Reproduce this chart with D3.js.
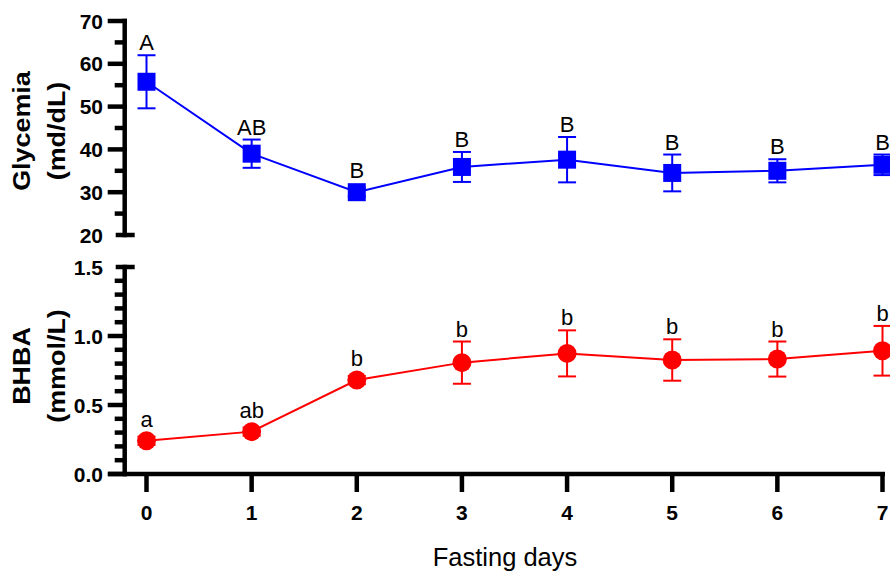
<!DOCTYPE html>
<html><head><meta charset="utf-8">
<script src="https://cdn.jsdelivr.net/npm/d3@7"></script>
<style>
html,body{margin:0;padding:0;background:#fff;}
svg{display:block;}
text{font-family:"Liberation Sans",Arial,sans-serif;}
</style></head>
<body>
<svg id="chart" width="890" height="574"></svg>
<script>
// ---- data ----
const days = [0, 1, 2, 3, 4, 5, 6, 7];
const glycemiaMean = [55.8, 39.0, 30.0, 35.9, 37.6, 34.5, 35.0, 36.4];
const glycemiaSEM  = [6.2, 3.3, 1.0, 3.5, 5.3, 4.3, 2.7, 2.4];
const glycemiaLetters = ["A", "AB", "B", "B", "B", "B", "B", "B"];
const bhbaMean = [0.241, 0.307, 0.681, 0.807, 0.874, 0.826, 0.833, 0.893];
const bhbaSEM  = [0.03, 0.03, 0.03, 0.153, 0.167, 0.150, 0.127, 0.180];
const bhbaLetters = ["a", "ab", "b", "b", "b", "b", "b", "b"];
const glyTicks = [20, 30, 40, 50, 60, 70];
const bhbaTicks = [0.0, 0.5, 1.0, 1.5];

const svg = d3.select("#chart");
const axisX = 124.7, AW = 4.5;

const x = d3.scaleLinear().domain([0, 7]).range([146.5, 882.5]);
const yG = d3.scaleLinear().domain([20, 70]).range([235, 21]);
const yB = d3.scaleLinear().domain([0, 1.5]).range([474, 267]);

function yAxis(scale, major, minorStep, fmt, topCentered, bottomCentered) {
  const g = svg.append("g");
  const d = scale.domain();
  g.append("line").attr("x1", axisX).attr("x2", axisX)
    .attr("y1", scale(d[1]) - AW/2).attr("y2", scale(d[0]) + AW/2)
    .attr("stroke", "#000").attr("stroke-width", AW);
  const minors = d3.range(d[0], d[1] + 1e-9, minorStep).filter(v => !major.some(m => Math.abs(m - v) < 1e-9));
  g.selectAll(".mn").data(minors).join("line")
    .attr("x1", axisX - 10).attr("x2", axisX)
    .attr("y1", v => scale(v)).attr("y2", v => scale(v))
    .attr("stroke", "#000").attr("stroke-width", AW);
  major.forEach((v, i) => {
    let x1 = axisX - 17, x2 = axisX + AW/2;
    if ((i === major.length - 1 && topCentered) || (i === 0 && bottomCentered)) { x1 = axisX - 9; x2 = axisX + 10; }
    g.append("line").attr("x1", x1).attr("x2", x2)
      .attr("y1", scale(v)).attr("y2", scale(v))
      .attr("stroke", "#000").attr("stroke-width", AW);
    g.append("text").attr("x", 103).attr("y", scale(v)).attr("dy", "0.36em")
      .attr("text-anchor", "end").attr("font-size", 21).attr("font-weight", "bold")
      .text(fmt(v));
  });
}
yAxis(yG, glyTicks, 5, d3.format("d"), false, true);
yAxis(yB, bhbaTicks, 0.1, d3.format(".1f"), true, false);

// x axis
svg.append("line").attr("x1", 108).attr("x2", 885)
  .attr("y1", 474).attr("y2", 474).attr("stroke", "#000").attr("stroke-width", AW);
svg.selectAll(".xt").data(days).join("line")
  .attr("x1", d => x(d)).attr("x2", d => x(d))
  .attr("y1", 474).attr("y2", 492).attr("stroke", "#000").attr("stroke-width", AW);
svg.selectAll(".xl").data(days).join("text")
  .attr("x", d => x(d)).attr("y", 520).attr("text-anchor", "middle")
  .attr("font-size", 21).attr("font-weight", "bold").text(d => d);
svg.append("text").attr("x", 505).attr("y", 566).attr("text-anchor", "middle")
  .attr("font-size", 25.5).text("Fasting days");

// y titles (stretched along reading direction like the original)
function yTitle(lines, cy) {
  lines.forEach((t, i) => {
    svg.append("text")
      .attr("transform", `translate(${[30, 65][i]},${cy}) rotate(-90) scale(1.17,1)`)
      .attr("text-anchor", "middle").attr("font-size", 23).attr("font-weight", "bold")
      .text(t);
  });
}
yTitle(["Glycemia", "(md/dL)"], 131);
yTitle(["BHBA", "(mmol/L)"], 366);

function series(mean, sem, letters, y, color, shape) {
  const g = svg.append("g");
  const pts = days.map((d, i) => ({ d, m: mean[i], s: sem[i], l: letters[i] }));
  g.append("path").datum(pts)
    .attr("d", d3.line().x(p => x(p.d)).y(p => y(p.m)))
    .attr("fill", "none").attr("stroke", color).attr("stroke-width", 2);
  pts.forEach(p => {
    const cx = x(p.d), top = y(p.m + p.s), bot = y(p.m - p.s);
    g.append("line").attr("x1", cx).attr("x2", cx).attr("y1", top).attr("y2", bot)
      .attr("stroke", color).attr("stroke-width", 2);
    [top, bot].forEach(yy => g.append("line").attr("x1", cx - 9).attr("x2", cx + 9)
      .attr("y1", yy).attr("y2", yy).attr("stroke", color).attr("stroke-width", 2));
    if (shape === "square") {
      g.append("rect").attr("x", cx - 9).attr("y", y(p.m) - 9).attr("width", 18).attr("height", 18).attr("fill", color);
    } else {
      g.append("circle").attr("cx", cx).attr("cy", y(p.m)).attr("r", 9.5).attr("fill", color);
    }
    const lt = Math.min(top, y(p.m) - 9);
    g.append("text").attr("x", cx).attr("y", lt - 5).attr("text-anchor", "middle")
      .attr("font-size", 22).text(p.l);
  });
}
series(glycemiaMean, glycemiaSEM, glycemiaLetters, yG, "#0000FF", "square");
series(bhbaMean, bhbaSEM, bhbaLetters, yB, "#FF0000", "circle");
</script>
</body></html>
